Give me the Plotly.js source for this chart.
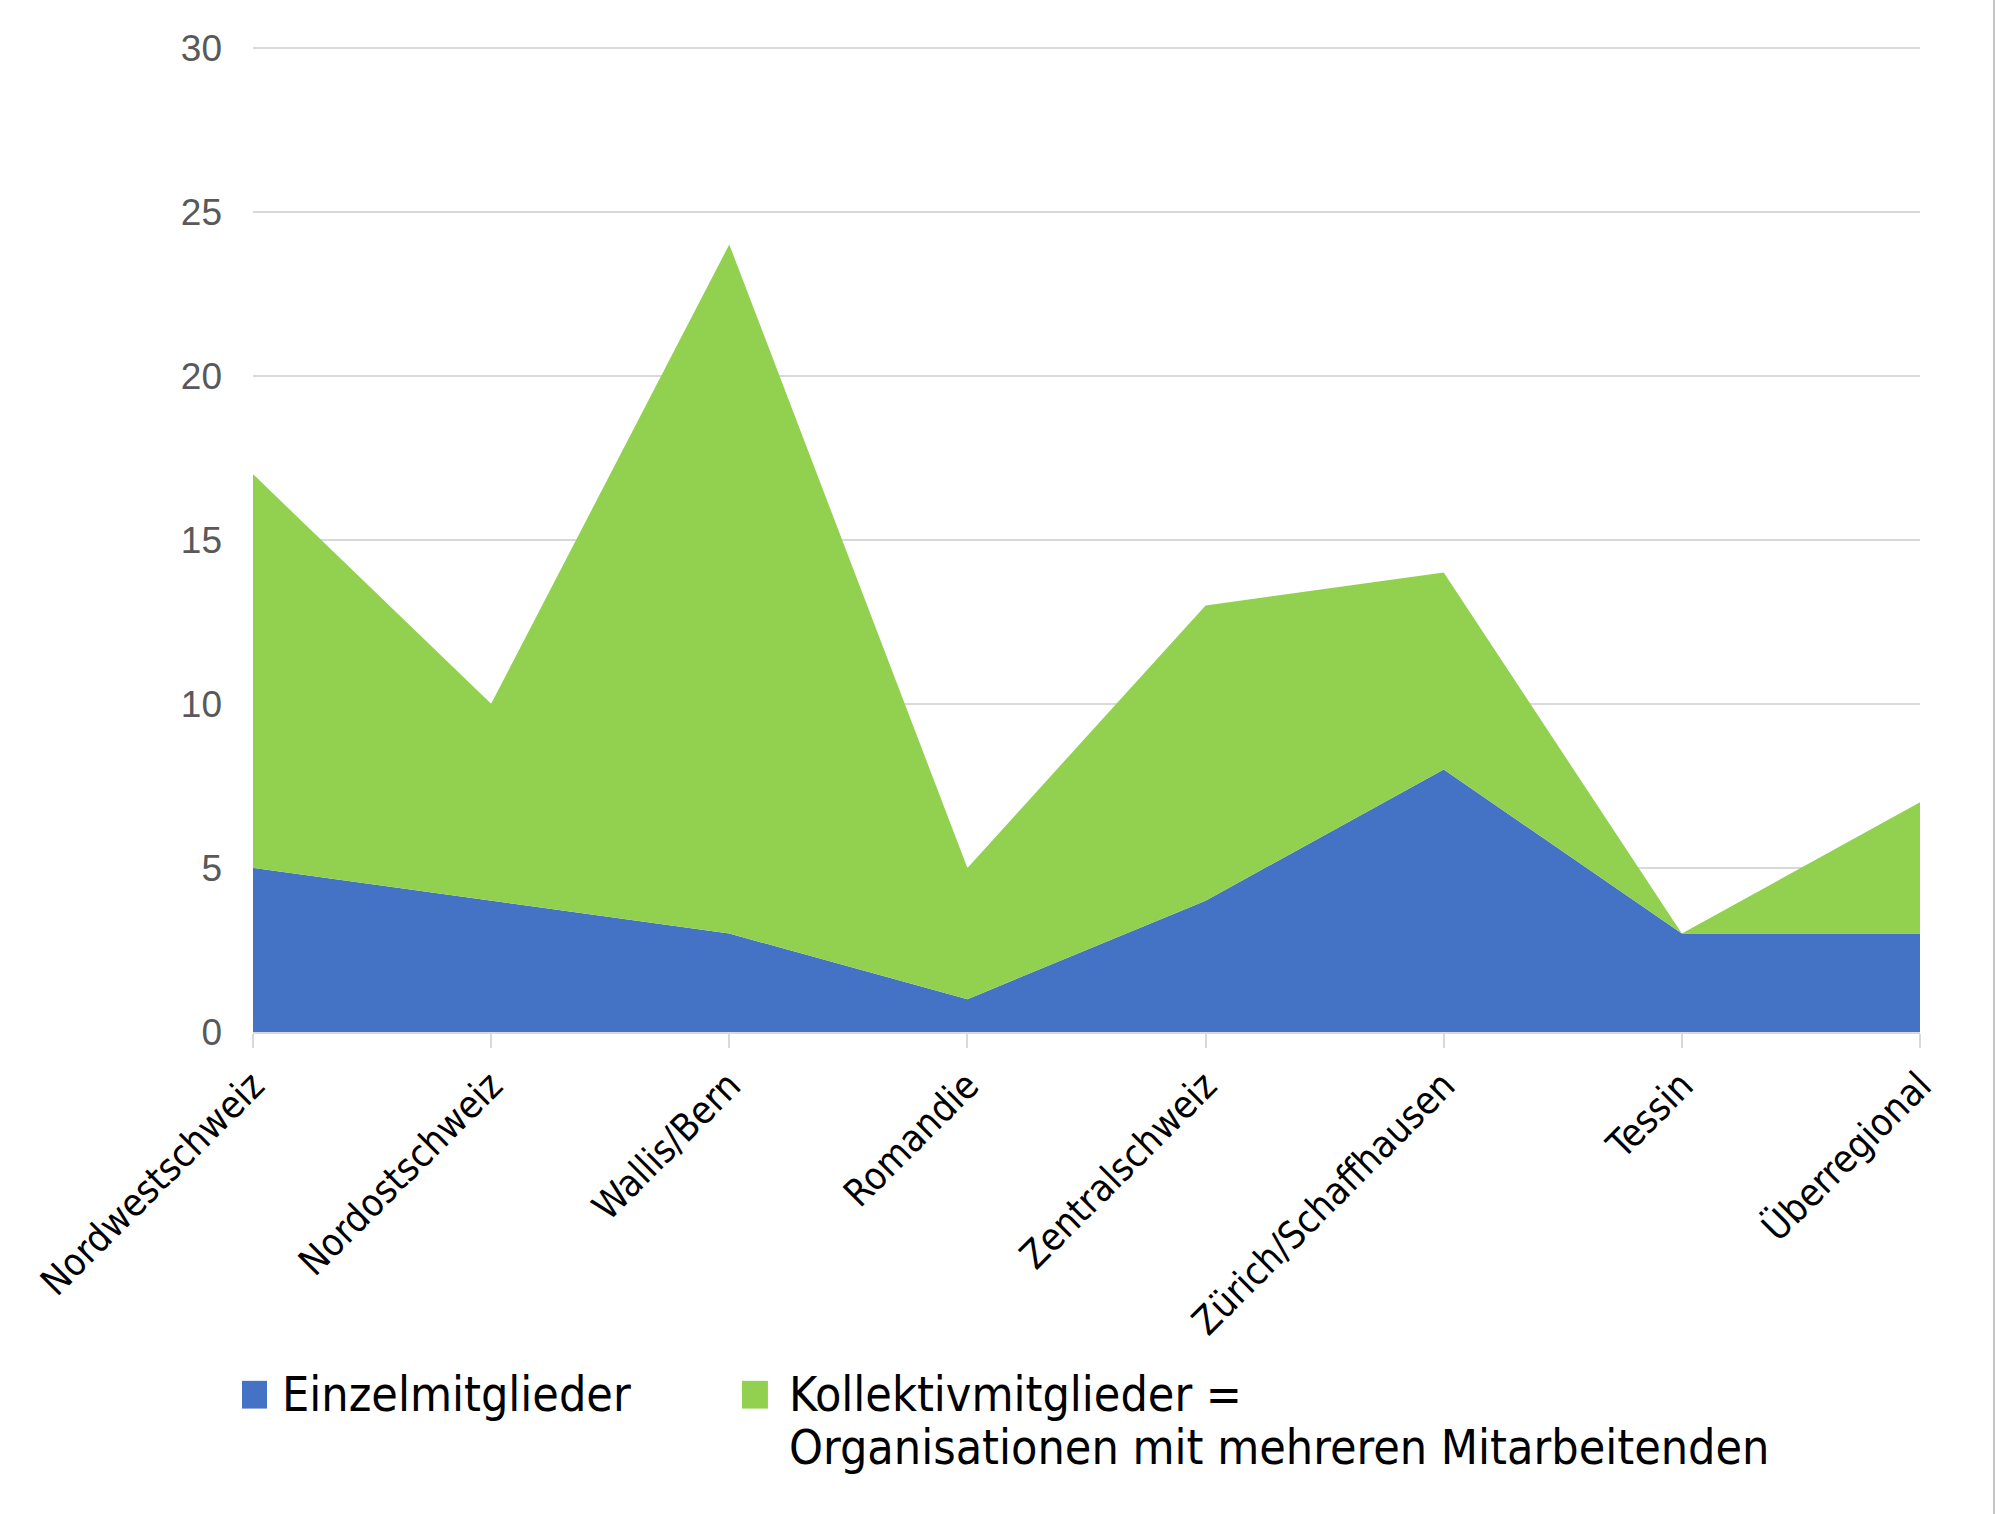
<!DOCTYPE html>
<html>
<head>
<meta charset="utf-8">
<script src="https://cdn.plot.ly/plotly-3.0.1.min.js"></script>
<style>
  body { margin: 0; background: #fff; }
  #chart { width: 1996px; height: 1514px; }
</style>
</head>
<body>
<div id="chart"></div>
<script>
// regions on the x axis
var regions = ['Nordwestschweiz', 'Nordostschweiz', 'Wallis/Bern', 'Romandie',
  'Zentralschweiz', 'Zürich/Schaffhausen', 'Tessin', 'Überregional'];

// members per region (stacked)
var einzel = [5, 4, 3, 1, 4, 8, 3, 3];
var kollektiv = [12, 6, 21, 4, 9, 6, 0, 4];

var seriesNames = ['Einzelmitglieder',
  'Kollektivmitglieder =<br>Organisationen mit mehreren Mitarbeitenden'];
var seriesColors = ['#4472C4', '#92D050'];

var yTicks = [0, 5, 10, 15, 20, 25, 30];

var narrow = '"Liberation Sans Narrow", "Arial Narrow", "DejaVu Sans Condensed", sans-serif';

var traces = [einzel, kollektiv].map(function (vals, i) {
  return {
    x: regions,
    y: vals,
    type: 'scatter',
    mode: 'lines',
    stackgroup: 'one',
    name: seriesNames[i].replace('<br>', ' '),
    line: {width: 0, color: seriesColors[i]},
    fillcolor: seriesColors[i],
    hoverinfo: 'x+y',
    showlegend: false
  };
});

// legend drawn by hand so the squares can be big like in the original
// paper y: 0 = bottom of plot (px 1032), 1 = top (px 41)
var shapes = [
  // thin frame line at right edge of the picture
  {type: 'line', xref: 'paper', yref: 'paper', x0: 1.0444, x1: 1.0444, y0: -1, y1: 1.1,
   line: {color: '#c4c4c4', width: 2}}
];
var annotations = [];
var legendItems = [
  {sq: [-0.0066, 0.0084], tx: 0.0162},
  {sq: [0.2933, 0.3089], tx: 0.3203}
];
var lineY = [-0.3650, -0.4185];
legendItems.forEach(function (it, i) {
  shapes.push({type: 'rect', xref: 'paper', yref: 'paper',
    x0: it.sq[0], x1: it.sq[1], y0: -0.3800, y1: -0.3520,
    fillcolor: seriesColors[i], line: {width: 0}});
  seriesNames[i].split('<br>').forEach(function (txt, k) {
    annotations.push({xref: 'paper', yref: 'paper', x: it.tx, y: lineY[k],
      xanchor: 'left', yanchor: 'middle', align: 'left', showarrow: false,
      text: txt,
      font: {family: narrow, size: 48, color: '#000'}});
  });
});

var layout = {
  width: 1996,
  height: 1514,
  margin: {l: 253, r: 76, t: 41, b: 482, pad: 0},
  paper_bgcolor: '#fff',
  plot_bgcolor: '#fff',
  showlegend: false,
  xaxis: {
    type: 'category',
    range: [0, regions.length - 1],
    showgrid: false,
    zeroline: false,
    showline: true,
    linecolor: '#d9d9d9',
    linewidth: 2,
    ticks: 'outside',
    ticklen: 14,
    tickwidth: 2,
    tickcolor: '#d9d9d9',
    tickangle: -45,
    tickfont: {family: narrow, size: 38, color: '#000'}
  },
  yaxis: {
    range: [0, 30.2],
    tickvals: yTicks,
    showgrid: true,
    gridcolor: '#d9d9d9',
    gridwidth: 2,
    zeroline: false,
    showline: false,
    ticks: '',
    ticklabelstandoff: 30,
    tickfont: {family: '"Liberation Sans", Arial, sans-serif', size: 37, color: '#595959'}
  },
  shapes: shapes,
  annotations: annotations
};

Plotly.newPlot('chart', traces, layout, {displayModeBar: false, staticPlot: true});
</script>
</body>
</html>
